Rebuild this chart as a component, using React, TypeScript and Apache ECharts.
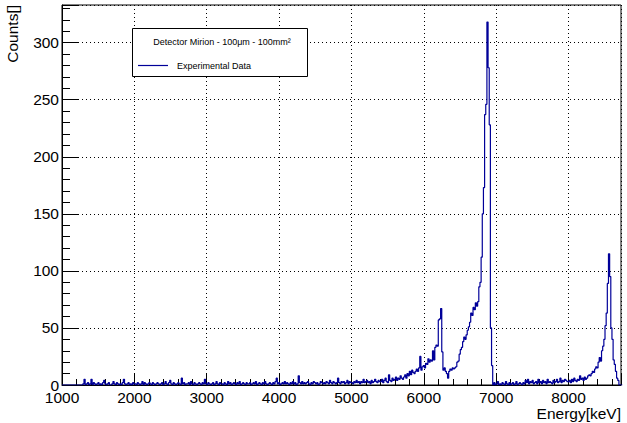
import React, { useEffect, useRef } from "react";
import * as echarts from "echarts";

// ---- Histogram data (16 keV bins, counts) ----
const BIN_WIDTH = 16;

const zeroStart = 1000;
const zeroCounts = [0, 0, 0, 0, 0, 0, 0, 0, 0, 0, 0, 0, 0, 0, 0, 0, 0, 0];

const bgStart = 1288;
const bgCounts = [
  1, 5, 0, 1, 2, 0, 1, 5, 0, 2, 1, 0, 1, 2, 0, 1,
  0, 2, 4, 1, 0, 1, 2, 0, 0, 1, 3, 1, 0, 2, 1, 0,
  1, 0, 2, 5, 1, 0, 1, 2, 0, 1, 0, 2, 1, 1, 0, 2,
  1, 0, 1, 3, 0, 2, 1, 0, 1, 2, 1, 0, 2, 1, 0, 1,
  2, 1, 0, 1, 2, 0, 1, 3, 1, 0, 2, 4, 1, 0, 2, 1,
  0, 1, 2, 1, 0, 6, 1, 2, 0, 1, 1, 2, 0, 3, 1, 0,
  2, 1, 0, 1, 2, 1, 0, 2, 1, 5, 1, 0, 2, 1, 0, 1,
  2, 0, 1, 3, 1, 0, 2, 1, 1, 0, 2, 1, 0, 3, 1, 2,
  0, 1, 2, 1, 0, 2, 1, 3, 0, 1, 2, 1, 0, 2, 1, 1,
  2, 0, 1, 2, 1, 3, 0, 1, 2, 1, 0, 2, 1, 3, 1, 0,
  1, 2, 1, 0, 2, 1, 3, 6, 1, 2, 0, 1, 2, 1, 3, 1,
  2, 1, 0, 2, 1, 3, 1, 2, 0, 1, 8, 2, 1, 3, 1, 2,
  1, 2, 3, 1, 0, 2, 1, 3, 2, 1, 2, 0, 1, 3, 2, 1,
  2, 1, 3, 2, 1, 4, 2, 1, 3, 2, 1, 2, 6, 2, 1, 3,
  2, 3, 1, 2, 4, 1, 3, 2, 2, 1, 3, 2, 4, 2, 3, 1,
  3, 2, 5, 2, 3, 4, 2, 3, 1, 4, 2, 3, 5, 3, 2, 4,
  3,
];

const riseStart = 5400;
const riseCounts = [
  3, 5, 2, 4, 6, 3, 2, 9, 4, 3,
  6, 4, 5, 7, 4, 6, 5, 8, 6, 5,
  7, 9, 6, 10, 8, 12, 9, 13, 11, 10,
  12, 14, 12, 15, 25, 13, 16, 17, 15, 19,
  18, 23, 20, 22, 21, 30, 22, 33, 35, 34,
  57, 58, 67, 29, 13, 15, 12, 10, 6, 12,
  14, 13, 15, 14, 15, 16, 20, 21, 27, 31,
  33, 38, 42, 40, 44, 48, 51, 55, 63, 61,
  68, 66, 72, 69, 73, 86, 90, 112, 150, 173,
  237, 246, 318, 278, 228, 50, 17,
];

const tailStart = 6952;
const tailCounts = [
  0, 2, 0, 1, 3, 0, 1, 0, 2, 1,
  0, 3, 1, 0, 2, 0, 1, 2, 0, 1,
  3, 0, 1, 2, 1, 0, 2, 1, 4, 2,
  5, 1, 3, 2, 4, 1, 2, 3, 1, 5,
  2, 3, 1, 4, 2, 3, 1, 5, 2, 3,
  2, 1, 4, 2, 3, 5, 2, 3, 6, 2,
  4, 3, 5, 4, 3,
];

const peak2Start = 7992;
const peak2Counts = [
  3, 4, 2, 5, 3, 6, 4, 3, 5, 4,
  8, 5, 6, 4, 7, 5, 6, 8, 9, 8,
  10, 12, 11, 14, 16, 15, 20, 24, 21, 30,
  34, 40, 52, 63, 89, 115, 95, 50, 40, 22,
  18, 12, 6, 4, 0, 0, 0,
];

const segments: [number, number[]][] = [
  [zeroStart, zeroCounts],
  [bgStart, bgCounts],
  [riseStart, riseCounts],
  [tailStart, tailCounts],
  [peak2Start, peak2Counts],
];

const X_MIN = 1000;
const X_MAX = 8725;
const X_STEP = 1000;
const Y_MIN = 0;
const Y_MAX = 333;
const Y_STEP = 50;

const TITLE_X = "Energy[keV]";
const TITLE_Y = "Counts[]";
const LEGEND_HEADER = "Detector Mirion - 100μm - 100mm²";
const SERIES_NAME = "Experimental Data";

const FONT = "'Liberation Sans', Arial, Helvetica, sans-serif";
const LINE_COLOR = "#000099";

function buildData(): [number, number][] {
  const pts: [number, number][] = [];
  let last = 0;
  let end = 0;
  segments.forEach(([start, counts]) => {
    counts.forEach((c, i) => {
      pts.push([start + i * BIN_WIDTH, c]);
      last = c;
      end = start + (i + 1) * BIN_WIDTH;
    });
  });
  pts.push([end, last]);
  return pts;
}

export default function App() {
  const ref = useRef<HTMLDivElement>(null);
  useEffect(() => {
    if (!ref.current) return;
    const chart = echarts.init(ref.current, null, { renderer: "svg" });
    const axisCommon = {
      axisLine: { show: true, lineStyle: { color: "#000", width: 1 } },
      splitLine: { show: true, lineStyle: { color: "#000", width: 1, type: [1, 3] as any } },
    };
    const plain = (v: number) => String(v);
    chart.setOption({
      animation: false,
      backgroundColor: "#fff",
      grid: {
        left: 62,
        right: 6,
        top: 5,
        bottom: 38,
        show: true,
        borderColor: "#000",
        borderWidth: 1,
        containLabel: false,
        outerBoundsMode: "none",
      },
      xAxis: {
        type: "value",
        min: X_MIN,
        max: X_MAX,
        interval: X_STEP,
        ...axisCommon,
        axisTick: { show: true, inside: true, length: 11, lineStyle: { color: "#000" } },
        minorTick: { show: true, splitNumber: 5, length: 6, lineStyle: { color: "#000" } },
        axisLabel: { color: "#000", fontSize: 15.5, fontFamily: FONT, margin: 4, showMaxLabel: false, formatter: plain },
      },
      yAxis: {
        type: "value",
        min: Y_MIN,
        max: Y_MAX,
        interval: Y_STEP,
        ...axisCommon,
        axisTick: { show: true, inside: true, length: 16, lineStyle: { color: "#000" } },
        minorTick: { show: true, splitNumber: 5, length: 8, lineStyle: { color: "#000" } },
        axisLabel: { color: "#000", fontSize: 15.5, fontFamily: FONT, margin: 3, showMaxLabel: false, formatter: plain },
      },
      series: [
        {
          name: SERIES_NAME,
          type: "line",
          step: "end",
          data: buildData(),
          showSymbol: false,
          symbol: "none",
          clip: true,
          lineStyle: { color: LINE_COLOR, width: 1.2 },
          itemStyle: { color: LINE_COLOR },
        },
      ],
      graphic: [
        {
          type: "text",
          x: 12,
          y: 5,
          rotation: Math.PI / 2,
          style: { text: TITLE_Y, fill: "#000", fontSize: 15.5, fontFamily: FONT, align: "right", verticalAlign: "middle" },
        },
        {
          type: "text",
          x: 621,
          y: 413,
          style: { text: TITLE_X, fill: "#000", fontSize: 15.5, fontFamily: FONT, align: "right", verticalAlign: "middle" },
        },
        {
          type: "rect",
          z: 100,
          shape: { x: 132.5, y: 28.5, width: 175, height: 48 },
          style: { fill: "#fff", stroke: "#000", lineWidth: 1 },
        },
        {
          type: "text",
          z: 101,
          x: 222,
          y: 42,
          style: { text: LEGEND_HEADER, fill: "#000", fontSize: 9, fontFamily: FONT, align: "center", verticalAlign: "middle" },
        },
        {
          type: "line",
          z: 101,
          shape: { x1: 138, y1: 65.5, x2: 168, y2: 65.5 },
          style: { stroke: LINE_COLOR, lineWidth: 1.2 },
        },
        {
          type: "text",
          z: 101,
          x: 177,
          y: 65.5,
          style: { text: SERIES_NAME, fill: "#000", fontSize: 9, fontFamily: FONT, align: "left", verticalAlign: "middle" },
        },
      ],
    });
    return () => chart.dispose();
  }, []);
  return (
    <div
      ref={ref}
      style={{ position: "absolute", left: 0, top: 0, width: 627, height: 423, background: "#fff" }}
    />
  );
}
